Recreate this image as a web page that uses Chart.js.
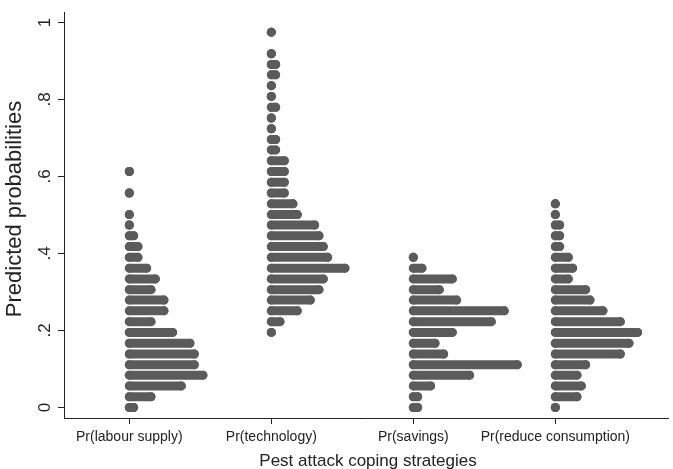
<!DOCTYPE html>
<html>
<head>
<meta charset="utf-8">
<script src="https://cdn.jsdelivr.net/npm/chart.js@4/dist/chart.umd.min.js"></script>
<style>
  html, body { margin: 0; padding: 0; background: #fff; }
  #wrap { width: 673px; height: 469px; }
</style>
</head>
<body>
<div id="wrap"><canvas id="dotplot"></canvas></div>
<script>
const categories = ['Pr(labour supply)', 'Pr(technology)', 'Pr(savings)', 'Pr(reduce consumption)'];

// bin value (predicted probability) and number of dots in each row
const labourY = [0, .028, .056, .084, .111, .139, .167, .195, .223, .251, .279, .306, .334, .362, .390, .418, .446, .474, .501, .557, .613];
const labourN = [2, 6, 13, 18, 16, 16, 15, 11, 6, 9, 9, 6, 7, 5, 3, 3, 2, 1, 1, 1, 1];

const techY = [.195, .223, .251, .279, .306, .334, .362, .390, .418, .446, .474, .501, .529, .557, .585, .613, .641, .669, .696, .724, .752, .780, .808, .836, .864, .891, .919, .975];
const techN = [1, 3, 7, 10, 12, 13, 18, 14, 13, 12, 11, 7, 6, 4, 4, 4, 4, 2, 2, 1, 1, 2, 1, 1, 2, 2, 1, 1];

const savingsY = [0, .028, .056, .084, .111, .139, .167, .195, .223, .251, .279, .306, .334, .362, .390];
const savingsN = [2, 2, 5, 14, 25, 8, 6, 10, 19, 22, 11, 7, 10, 3, 1];

const reduceY = [0, .028, .056, .084, .111, .139, .167, .195, .223, .251, .279, .306, .334, .362, .390, .418, .446, .474, .501, .529];
const reduceN = [1, 6, 7, 6, 8, 16, 18, 20, 16, 12, 9, 8, 4, 5, 4, 2, 2, 2, 1, 1];

const yTicks = [0, .2, .4, .6, .8, 1];
const yTickLabels = ['0', '.2', '.4', '.6', '.8', '1'];

const dotStep = 0.0305; // horizontal offset between stacked dots, in category units
const dotColor = '#5b5b5b';
const fontFam = '"Liberation Sans", Arial, sans-serif';

// each row of dots overlaps into a pill: first dot to last dot, null breaks the line
function dotRows(pos, ys, ns) {
  let pts = [];
  ys.forEach((v, i) => {
    pts.push({x: pos, y: v});
    pts.push({x: pos + (ns[i] - 1) * dotStep, y: v});
    pts.push({x: pos, y: null});
  });
  return pts;
}

const groups = [[labourY, labourN], [techY, techN], [savingsY, savingsN], [reduceY, reduceN]];

const data = {
  datasets: groups.map((g, i) => ({
    label: categories[i],
    data: dotRows(i + 1, g[0], g[1]),
    showLine: true,
    spanGaps: false,
    borderColor: dotColor,
    backgroundColor: dotColor,
    borderWidth: 9,
    borderCapStyle: 'round',
    pointRadius: 4.5,
    pointBorderWidth: 0,
    pointHoverRadius: 4.5
  }))
};

// titles and rotated y labels, Stata style
const textPlugin = {
  id: 'stataText',
  afterDraw(chart) {
    const ctx = chart.ctx;
    const y = chart.scales.y;
    ctx.save();
    ctx.fillStyle = '#222';
    ctx.textAlign = 'center';
    ctx.textBaseline = 'middle';
    ctx.font = '17px ' + fontFam;
    yTicks.forEach((v, i) => {
      ctx.save();
      ctx.translate(45, y.getPixelForValue(v));
      ctx.rotate(-Math.PI / 2);
      ctx.fillText(yTickLabels[i], 0, 0);
      ctx.restore();
    });
    ctx.font = '22px ' + fontFam;
    ctx.save();
    ctx.translate(15, 209);
    ctx.rotate(-Math.PI / 2);
    ctx.fillText('Predicted probabilities', 0, 0);
    ctx.restore();
    ctx.font = '17px ' + fontFam;
    ctx.fillText('Pest attack coping strategies', 368, 461);
    ctx.restore();
  }
};

const config = {
  type: 'scatter',
  data: data,
  plugins: [textPlugin],
  options: {
    responsive: true,
    maintainAspectRatio: false,
    animation: false,
    events: [],
    layout: { padding: { top: 12, left: 0, right: 0, bottom: 0 } },
    plugins: {
      legend: { display: false },
      tooltip: { enabled: false }
    },
    scales: {
      x: {
        type: 'linear',
        min: 0.54,
        max: 4.797,
        afterBuildTicks: s => { s.ticks = [1, 2, 3, 4].map(v => ({value: v})); },
        afterFit: s => { s.height = 51; s.paddingLeft = 0; s.paddingRight = 0; },
        ticks: {
          autoSkip: false,
          maxRotation: 0,
          padding: 5,
          color: '#222',
          font: { family: fontFam, size: 14 },
          callback: v => categories[v - 1]
        },
        grid: { drawOnChartArea: false, drawTicks: true, tickLength: 6, color: '#222' },
        border: { display: true, color: '#222', width: 1 }
      },
      y: {
        min: -0.0273,
        max: 1.0273,
        afterBuildTicks: s => { s.ticks = yTicks.map(v => ({value: v})); },
        afterFit: s => { s.width = 64; s.paddingTop = 0; s.paddingBottom = 0; },
        ticks: { display: false },
        grid: { drawOnChartArea: false, drawTicks: true, tickLength: 6, color: '#222' },
        border: { display: true, color: '#222', width: 1 }
      }
    }
  }
};

let chart = new Chart(document.getElementById('dotplot'), config);
</script>
</body>
</html>
